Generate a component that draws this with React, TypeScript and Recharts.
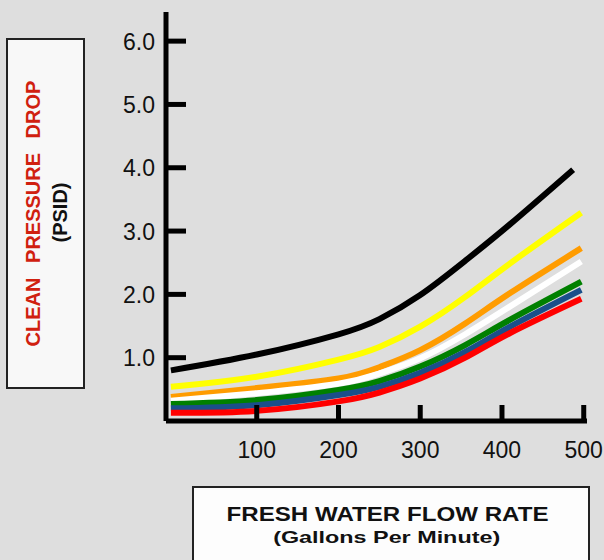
import { LineChart, Line, XAxis, YAxis } from "recharts";

// flow rate (gpm) where each curve was read
const flowRates = [-5, 100, 200, 250, 300, 355, 410, 497];
const blackFlowRates = [-5, 100, 200, 250, 300, 355, 410, 487];

// clean pressure drop (psid) per curve
const blackDrop = [0.8, 1.05, 1.37, 1.61, 1.99, 2.53, 3.11, 3.97];
const yellowDrop = [0.54, 0.7, 0.97, 1.17, 1.49, 1.96, 2.49, 3.29];
const orangeDrop = [0.38, 0.52, 0.67, 0.85, 1.12, 1.54, 2.02, 2.73];
const whiteDrop = [0.32, 0.44, 0.59, 0.75, 0.99, 1.37, 1.81, 2.52];
const greenDrop = [0.27, 0.33, 0.49, 0.63, 0.86, 1.2, 1.6, 2.2];
const blueDrop = [0.2, 0.25, 0.41, 0.54, 0.76, 1.09, 1.49, 2.07];
const redDrop = [0.13, 0.16, 0.31, 0.45, 0.67, 1.0, 1.39, 1.93];

const xTicks = [100, 200, 300, 400, 500];
const yTicks = [1, 2, 3, 4, 5, 6];

const FONT = "'Liberation Sans', Arial, Helvetica, sans-serif";

const toSeries = (xs: number[], ys: number[]) =>
  xs.map((flow, i) => ({ flow, psid: ys[i] }));

const series = [
  { name: "black", color: "#000000", data: toSeries(blackFlowRates, blackDrop) },
  { name: "yellow", color: "#ffff00", data: toSeries(flowRates, yellowDrop) },
  { name: "orange", color: "#ff9c00", data: toSeries(flowRates, orangeDrop) },
  { name: "white", color: "#ffffff", data: toSeries(flowRates, whiteDrop) },
  { name: "green", color: "#008000", data: toSeries(flowRates, greenDrop) },
  { name: "blue", color: "#1a4f8a", data: toSeries(flowRates, blueDrop) },
  { name: "red", color: "#ff0000", data: toSeries(flowRates, redDrop) },
];

const YTick = (props: any) => {
  const { x, y, payload } = props;
  return (
    <g>
      <line x1={x + 11} x2={x + 31} y1={y} y2={y} stroke="#000" strokeWidth={5} />
      <text x={x} y={y} dy={8.5} textAnchor="end" fontSize={23} fontFamily={FONT} fill="#111">
        {Number(payload.value).toFixed(1)}
      </text>
    </g>
  );
};

const XTick = (props: any) => {
  const { x, y, payload } = props;
  return (
    <g>
      <line x1={x} x2={x} y1={y - 20} y2={y - 36} stroke="#000" strokeWidth={5} />
      <text x={x} y={y} dy={16.5} textAnchor="middle" fontSize={23} fontFamily={FONT} fill="#111">
        {payload.value}
      </text>
    </g>
  );
};

export default function App() {
  return (
    <div
      style={{
        position: "absolute",
        left: 0,
        top: 0,
        width: 604,
        height: 560,
        background: "#dedede",
        overflow: "hidden",
      }}
    >
      <svg width={604} height={560} style={{ position: "absolute", left: 0, top: 0 }}>
        <rect x={7} y={39} width={77} height={349} fill="#f8f8f8" stroke="#222" strokeWidth={2} />
        <text
          transform="translate(39.5, 213.5) rotate(-90)"
          textAnchor="middle"
          fontSize={20}
          fontWeight="bold"
          fontFamily={FONT}
          fill="#d0200f"
          wordSpacing={9}
        >
          CLEAN PRESSURE DROP
        </text>
        <text
          transform="translate(66.5, 212.5) rotate(-90)"
          textAnchor="middle"
          fontSize={20}
          fontWeight="bold"
          fontFamily={FONT}
          fill="#111"
        >
          (PSID)
        </text>
        <rect x={193} y={487} width={396} height={90} fill="#fdfdfd" stroke="#222" strokeWidth={2} />
        <text
          x={387.5}
          y={521}
          textAnchor="middle"
          fontSize={20}
          fontWeight="bold"
          fontFamily={FONT}
          fill="#111"
          textLength={322}
          lengthAdjust="spacingAndGlyphs"
        >
          FRESH WATER FLOW RATE
        </text>
        <text
          x={386.7}
          y={543}
          textAnchor="middle"
          fontSize={17}
          fontWeight="bold"
          fontFamily={FONT}
          fill="#111"
          textLength={227}
          lengthAdjust="spacingAndGlyphs"
        >
          (Gallons Per Minute)
        </text>
      </svg>
      <div style={{ position: "absolute", left: 0, top: 0 }}>
        <LineChart
          width={604}
          height={560}
          margin={{ top: 12, right: 17, bottom: 109, left: 106 }}
        >
          <XAxis
            type="number"
            dataKey="flow"
            domain={[-11, 504]}
            ticks={xTicks}
            allowDataOverflow
            height={30}
            tickSize={0}
            tickMargin={20}
            tickLine={false}
            axisLine={{ stroke: "#000", strokeWidth: 5 }}
            tick={<XTick />}
            interval={0}
          />
          <YAxis
            type="number"
            dataKey="psid"
            domain={[0, 6.46]}
            ticks={yTicks}
            allowDataOverflow
            width={60}
            tickSize={0}
            tickMargin={11}
            tickLine={false}
            axisLine={{ stroke: "#000", strokeWidth: 5 }}
            tick={<YTick />}
            interval={0}
          />
          {series.map((s) => (
            <Line
              key={s.name}
              data={s.data}
              dataKey="psid"
              type="natural"
              stroke={s.color}
              strokeWidth={6}
              dot={false}
              activeDot={false}
              isAnimationActive={false}
            />
          ))}
        </LineChart>
      </div>
    </div>
  );
}
